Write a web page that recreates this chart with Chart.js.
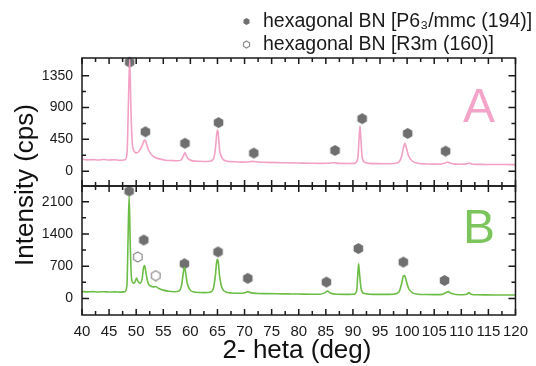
<!DOCTYPE html>
<html>
<head>
<meta charset="utf-8">
<script src="https://cdn.jsdelivr.net/npm/chart.js@4"></script>
<style>
  body { margin: 0; background: #fff; }
</style>
</head>
<body>
<canvas id="xrd" width="536" height="366"></canvas>
<script>
// 2-theta axis
var xTicks = [40, 45, 50, 55, 60, 65, 70, 75, 80, 85, 90, 95, 100, 105, 110, 115, 120];
var yTicksA = [0, 450, 900, 1350];
var yTicksB = [0, 700, 1400, 2100];

// pattern A (pink)
var xA = [40, 41, 42, 43, 44, 45, 46, 47, 47.9, 48.3, 48.55, 48.8, 49.05, 49.3, 49.7, 50.1, 50.6, 51.1, 51.45, 51.65, 51.9, 52.3, 52.9, 53.6, 54.5, 55.5, 56.5, 57.5, 58.3, 58.7, 59.0, 59.3, 59.8, 60.5, 61.5, 62.5, 63.5, 64.2, 64.6, 64.85, 65.0, 65.15, 65.4, 65.9, 66.6, 67.5, 68.5, 69.5, 70.5, 71.5, 72.5, 74, 76, 78, 80, 82, 84, 85.5, 86.5, 87.5, 89, 90.3, 90.9, 91.15, 91.3, 91.45, 91.7, 92.2, 93, 94.5, 96, 97.5, 98.5, 99.0, 99.35, 99.6, 99.85, 100.3, 101, 102, 103.5, 105, 106.3, 107.0, 107.5, 108.0, 108.8, 110, 111.1, 111.5, 111.9, 113, 114.5, 116, 117.5, 119, 120];
var yA = [168, 160, 163, 158, 165, 157, 161, 154, 158, 240, 900, 1580, 820, 380, 275, 258, 290, 360, 430, 440, 385, 295, 225, 190, 170, 155, 150, 146, 160, 215, 264, 205, 165, 145, 140, 137, 140, 165, 300, 520, 580, 520, 300, 180, 145, 135, 132, 128, 130, 138, 128, 124, 120, 118, 115, 112, 110, 112, 118, 110, 108, 110, 180, 480, 636, 480, 200, 125, 110, 106, 105, 108, 130, 210, 340, 394, 330, 210, 140, 112, 102, 100, 102, 115, 128, 112, 100, 98, 105, 116, 102, 96, 95, 93, 94, 92, 93];

// pattern B (green)
var xB = [40, 41, 42, 43, 44, 45, 46, 47, 47.9, 48.3, 48.5, 48.7, 48.9, 49.15, 49.5, 49.8, 50.05, 50.3, 50.7, 51.1, 51.35, 51.55, 51.8, 52.2, 52.7, 53.2, 53.6, 54.1, 55, 56, 57, 57.9, 58.4, 58.7, 58.9, 59.1, 59.4, 59.9, 60.7, 61.7, 62.7, 63.6, 64.2, 64.6, 64.85, 65.0, 65.15, 65.4, 65.9, 66.7, 67.7, 69, 70.1, 70.6, 71.2, 72.5, 74, 76, 78, 80, 82, 83.8, 84.8, 85.3, 85.8, 87, 88.5, 90.2, 90.7, 90.9, 91.05, 91.2, 91.5, 92, 93, 94.5, 96, 97.5, 98.5, 99.0, 99.3, 99.55, 99.8, 100.3, 101, 102, 103.5, 105, 106.5, 107.2, 107.6, 108.1, 109, 110.3, 111.1, 111.4, 111.8, 113, 114.5, 116, 117.5, 119, 120];
var yB = [150, 142, 148, 140, 146, 138, 143, 137, 145, 300, 1300, 2220, 1200, 420, 330, 360, 440, 380, 330, 430, 660, 715, 560, 330, 270, 250, 258, 220, 180, 155, 145, 160, 300, 560, 678, 580, 340, 190, 140, 128, 125, 135, 200, 480, 790, 847, 780, 480, 210, 135, 118, 112, 125, 147, 120, 108, 104, 100, 98, 96, 92, 92, 120, 162, 118, 90, 88, 92, 170, 520, 752, 560, 220, 110, 92, 88, 88, 92, 140, 330, 480, 494, 400, 210, 120, 92, 84, 82, 88, 130, 147, 110, 84, 80, 95, 125, 92, 78, 76, 75, 74, 73, 74];

// phase markers: P63/mmc (filled) and R3m (open)
var markAx = [48.8, 51.7, 59.0, 65.2, 71.7, 86.7, 91.7, 100.1, 107.1];
var markAy = [1540, 557, 394, 687, 255, 292, 742, 534, 283];
var markBx = [48.7, 51.4, 58.9, 65.1, 70.6, 85.1, 91.0, 99.3, 106.9];
var markBy = [2330, 1267, 752, 1010, 435, 354, 1083, 788, 390];
var openBx = [50.3, 53.6];
var openBy = [900, 494];

var FONT = '"Liberation Sans", Arial, sans-serif';
var GREY = '#6f6f6f';

function hexagon(size, filled) {
  var c = document.createElement('canvas');
  c.width = size; c.height = size;
  var g = c.getContext('2d');
  var r = size / 2 - 1;
  g.beginPath();
  for (var i = 0; i < 6; i++) {
    var a = -Math.PI / 2 + i * Math.PI / 3;
    var px = size / 2 + r * Math.cos(a), py = size / 2 + r * Math.sin(a);
    if (i == 0) g.moveTo(px, py); else g.lineTo(px, py);
  }
  g.closePath();
  if (filled) { g.fillStyle = GREY; g.fill(); }
  else { g.lineWidth = 1.2; g.strokeStyle = '#8a8a8a'; g.fillStyle = '#fff'; g.fill(); g.stroke(); }
  return c;
}
var hexFull = hexagon(13, true);
var hexOpen = hexagon(12, false);
var hexFullSmall = hexagon(9, true);
var hexOpenSmall = hexagon(9, false);

function pts(xs, ys) {
  return xs.map(function (x, i) { return { x: x, y: ys[i] }; });
}

function setTicks(list) {
  return function (s) { s.ticks = list.map(function (v) { return { value: v }; }); };
}

function plain(v) { return String(v); }

// frames, inner ticks, titles, panel letters, legend
var decor = {
  id: 'decor',
  afterDraw: function (chart) {
    var g = chart.ctx, a = chart.chartArea;
    var sx = chart.scales.x, sA = chart.scales.yA, sB = chart.scales.yB;
    g.save();
    g.strokeStyle = '#1a1a1a';
    g.lineWidth = 1.5;
    [sA, sB].forEach(function (s, k) {
      var top = s.top, bot = s.bottom;
      g.strokeRect(a.left, top, a.right - a.left, bot - top);
      g.beginPath();
      for (var v = 40; v <= 120; v += 2.5) {
        var px = sx.getPixelForValue(v);
        var len = (v % 5 == 0) ? 6 : 4;
        g.moveTo(px, top); g.lineTo(px, top + len);
        g.moveTo(px, bot); g.lineTo(px, bot - len);
      }
      var list = k == 0 ? yTicksA : yTicksB;
      var step = list[1] - list[0];
      for (var w = list[0] - step; w <= list[list.length - 1] + step; w += step / 2) {
        var py = s.getPixelForValue(w);
        if (py < top + 2 || py > bot - 2) continue;
        var l2 = (Math.abs(w % step) < 1e-6) ? 7 : 4;
        g.moveTo(a.left, py); g.lineTo(a.left + l2, py);
        g.moveTo(a.right, py); g.lineTo(a.right - l2, py);
      }
      g.stroke();
    });

    g.font = '48px ' + FONT;
    g.textAlign = 'right';
    g.textBaseline = 'alphabetic';
    g.fillStyle = '#f3a4c8';
    g.fillText('A', 495, 122);
    g.fillStyle = '#7cc45c';
    g.fillText('B', 495, 243);

    g.fillStyle = '#111';
    g.font = '26px ' + FONT;
    g.textAlign = 'center';
    g.textBaseline = 'middle';
    g.fillText('2- heta (deg)', 297, 351);
    g.save();
    g.translate(26, 185);
    g.rotate(-Math.PI / 2);
    g.font = '26px ' + FONT;
    g.fillText('Intensity (cps)', 0, 0);
    g.restore();

    g.font = '19.5px ' + FONT;
    g.textAlign = 'left';
    g.fillStyle = '#1a1a1a';
    g.drawImage(hexFullSmall, 242, 17);
    g.fillText('hexagonal BN [P6\u2083/mmc (194)]', 263, 22);
    g.drawImage(hexOpenSmall, 242, 40);
    g.fillText('hexagonal BN [R3m (160)]', 263, 45);
    g.restore();
  }
};

var tickFont = { family: FONT, size: 14 };

new Chart(document.getElementById('xrd'), {
  type: 'line',
  data: {
    datasets: [
      { data: pts(xA, yA), yAxisID: 'yA', borderColor: '#f2a0c5', borderWidth: 1.6, pointRadius: 0, cubicInterpolationMode: 'monotone' },
      { data: pts(xB, yB), yAxisID: 'yB', borderColor: '#6cbd45', borderWidth: 1.6, pointRadius: 0, cubicInterpolationMode: 'monotone' },
      { data: pts(markAx, markAy), yAxisID: 'yA', showLine: false, pointStyle: hexFull, clip: false },
      { data: pts(markBx, markBy), yAxisID: 'yB', showLine: false, pointStyle: hexFull, clip: false },
      { data: pts(openBx, openBy), yAxisID: 'yB', showLine: false, pointStyle: hexOpen, clip: false }
    ]
  },
  options: {
    responsive: false,
    animation: false,
    layout: { padding: { top: 58, right: 16, left: 0, bottom: 0 } },
    plugins: { legend: { display: false }, tooltip: { enabled: false } },
    scales: {
      x: {
        type: 'linear', min: 40, max: 120,
        afterBuildTicks: setTicks(xTicks),
        afterFit: function (s) { s.height = 51; },
        grid: { display: false, drawTicks: false },
        border: { display: false },
        ticks: { font: { family: FONT, size: 15 }, color: '#1a1a1a', padding: 8, maxRotation: 0, autoSkip: false, callback: plain }
      },
      yB: {
        type: 'linear', position: 'left', stack: 'panels', stackWeight: 129,
        min: -360, max: 2440,
        afterBuildTicks: setTicks(yTicksB),
        afterFit: function (s) { s.width = 82; },
        grid: { display: false, drawTicks: false },
        border: { display: false },
        ticks: { font: tickFont, color: '#1a1a1a', padding: 9, callback: plain }
      },
      yA: {
        type: 'linear', position: 'left', stack: 'panels', stackWeight: 128,
        min: -210, max: 1600,
        afterBuildTicks: setTicks(yTicksA),
        afterFit: function (s) { s.width = 82; },
        grid: { display: false, drawTicks: false },
        border: { display: false },
        ticks: { font: tickFont, color: '#1a1a1a', padding: 9, callback: plain }
      }
    }
  },
  plugins: [decor]
});
</script>
</body>
</html>
